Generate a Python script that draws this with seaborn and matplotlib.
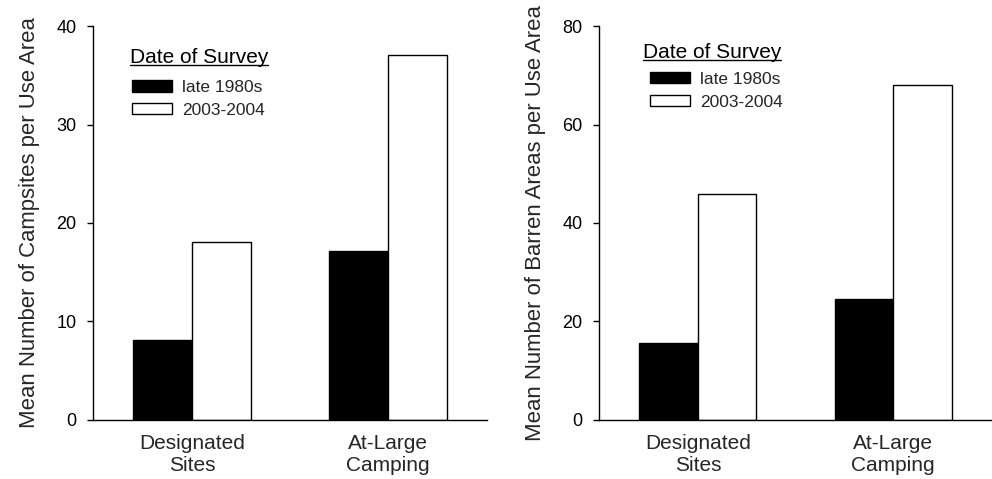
import matplotlib
matplotlib.use("Agg")
import matplotlib.pyplot as plt
from matplotlib.lines import Line2D
import seaborn as sns
import pandas as pd

# Survey data
categories = ["Designated\nSites", "At-Large\nCamping"]
periods = ["late 1980s", "2003-2004"]
campsites_1980s = [8.1, 17.2]
campsites_2003 = [18.1, 37.1]
barren_1980s = [15.7, 24.6]
barren_2003 = [45.9, 68.0]
legend_title = "Date of Survey"

sns.set_theme(style="ticks")
plt.rcParams["font.family"] = ["Liberation Sans", "DejaVu Sans"]


def make_frame(first, second):
    rows = []
    for cat, a, b in zip(categories, first, second):
        rows.append({"category": cat, "period": periods[0], "value": a})
        rows.append({"category": cat, "period": periods[1], "value": b})
    return pd.DataFrame(rows)


fig = plt.figure(figsize=(9.92, 4.79), dpi=100)
ax1 = fig.add_axes([0.0938, 0.1232, 0.397, 0.8225])
ax2 = fig.add_axes([0.604, 0.1232, 0.396, 0.8225])

panels = [
    (ax1, make_frame(campsites_1980s, campsites_2003), 40, [0, 10, 20, 30, 40],
     "Mean Number of Campsites per Use Area", (0.094, 0.906), (0.099, 0.863)),
    (ax2, make_frame(barren_1980s, barren_2003), 80, [0, 20, 40, 60, 80],
     "Mean Number of Barren Areas per Use Area", (0.111, 0.919), (0.129, 0.884)),
]

titles = []
for ax, df, ymax, yticks, ylabel, titlepos, legpos in panels:
    sns.barplot(data=df, x="category", y="value", hue="period",
                hue_order=periods, order=categories,
                palette=["black", "white"], edgecolor="black",
                linewidth=1.0, width=0.6, saturation=1, ax=ax,
                errorbar=None)
    ax.set_xlim(-0.505, 1.505)
    ax.set_ylim(0, ymax)
    ax.set_yticks(yticks)
    ax.set_xlabel("")
    ax.set_ylabel(ylabel, fontsize=15.9, labelpad=12)
    for side in ("top", "right"):
        ax.spines[side].set_visible(False)
    for side in ("left", "bottom"):
        ax.spines[side].set_linewidth(1.0)
        ax.spines[side].set_color("black")
    ax.tick_params(axis="y", length=4.5, width=1.0, pad=7.5,
                   labelsize=13, colors="black")
    ax.tick_params(axis="x", length=0, pad=10, labelsize=15)
    for lab in ax.get_xticklabels():
        lab.set_linespacing(1.2)

    # legend title drawn as its own text so it can be underlined
    t = ax.text(titlepos[0], titlepos[1], legend_title, transform=ax.transAxes,
                fontsize=15, ha="left", va="baseline", color="black")
    titles.append((ax, t))

    leg = ax.legend(loc="upper left", bbox_to_anchor=legpos,
                    frameon=False, fontsize=12.5,
                    handlelength=2.3, handleheight=0.65,
                    handletextpad=0.6, labelspacing=0.45, borderpad=0,
                    borderaxespad=0)
    for h in leg.legend_handles:
        h.set_edgecolor("black")
        h.set_linewidth(1.0)

# Underline the legend titles
fig.canvas.draw()
renderer = fig.canvas.get_renderer()
inv = fig.transFigure.inverted()
for ax, t in titles:
    bb = t.get_window_extent(renderer)
    x0, x1 = inv.transform([(bb.x0, 0), (bb.x1, 0)])[:, 0]
    base = ax.transAxes.transform((0, t.get_position()[1]))[1]
    yline = inv.transform((0, base - 2))[1]
    fig.add_artist(Line2D([x0, x1], [yline, yline], transform=fig.transFigure,
                          color="black", linewidth=1.0))

fig.savefig("out.png", dpi=100)
